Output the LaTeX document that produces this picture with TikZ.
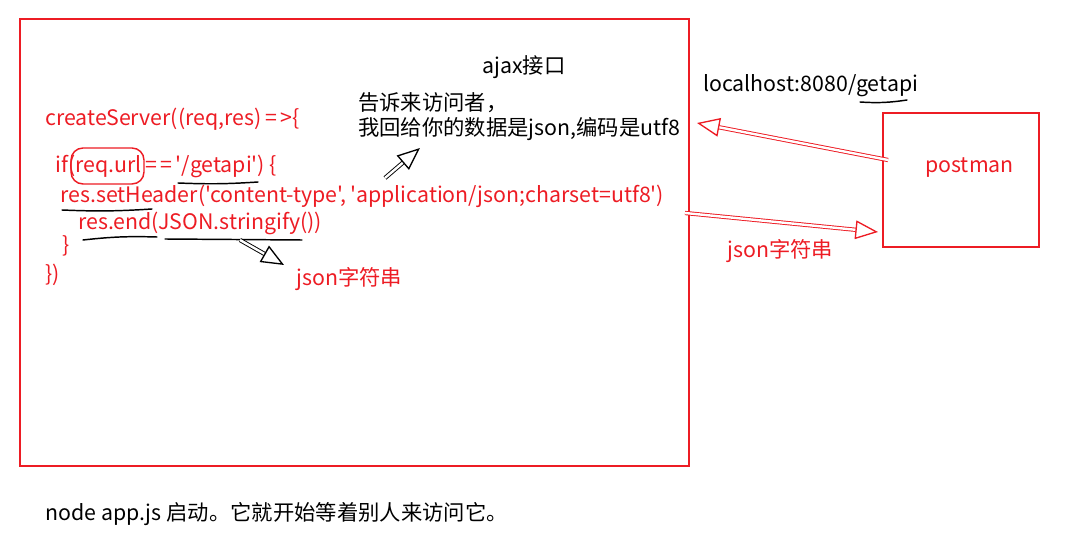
\documentclass[tikz,border=0pt]{standalone}
\usepackage{fontspec}
\setmainfont{Noto Sans CJK SC}[Ligatures=TeXOff]
\usepackage{xcolor}
\usetikzlibrary{positioning, arrows.meta}
\definecolor{paintred}{HTML}{ED1C24}

\begin{document}
\begin{tikzpicture}[x=0.75pt, y=-0.75pt,
  txt/.style={anchor=west, inner sep=0pt, font=\fontsize{16}{19}\selectfont},
  code/.style={txt, text=paintred},
  frame/.style={draw=paintred, line width=2.2pt, inner sep=0pt},
  scribble/.style={line width=1.1pt, line cap=round},
  hollow/.style={double, double distance=1.8pt, line width=0.7pt,
                 -{Triangle[open, length=17pt, width=14pt, line width=1pt]}}]
  \useasboundingbox (0,0) rectangle (1082,541);

  % the server and the client
  \node[frame, minimum width=501.75pt, minimum height=335.25pt] (server) at (354.5,242.5) {};
  \node[frame, minimum width=117pt, minimum height=100.5pt] (pmbox) at (961,180) {};
  \node[code] (pmlabel) at (925,168) {postman};

  % code inside the server
  \node[code] (line1) at (45,119) {createServer((req,res)\,=\,>\{};
  \node[code] (line2) at (55,166) {if(req.url\,=\,=\,'/getapi') \{};
  \node[code] (line3) at (60,196) {res.setHeader('content-type',\,'application/json;charset=utf8')};
  \node[code] (line4) at (78,223) {res.end(JSON.stringify())};
  \node[code] (line5) at (62,246) {\}};
  \node[code] (line6) at (45,275) {\})};

  % notes
  \node[txt] (ajax) at (482,67) {ajax接口};
  \node[txt] (tell1) at (358,103) {告诉来访问者，};
  \node[txt] (tell2) at (358,129) {我回给你的数据是json,编码是utf8};
  \node[txt] (url) at (703,86) {localhost:8080/getapi};
  \node[code] (jsonA) at (296,279) {json字符串};
  \node[code] (jsonB) at (727,251) {json字符串};
  \node[txt] (start) at (45,514) {node app.js 启动。它就开始等着别人来访问它。};

  % marks on the code
  \draw[paintred, line width=1.1pt, rounded corners=9pt] (71,148) rectangle (144,184);
  \draw[scribble] (178,183) to[bend right=3] (258,182);
  \draw[scribble] (62,210) to[bend right=3] (152,209);
  \draw[scribble] (83,240) to[bend left=4] (157,237);
  \draw[scribble] (165,239) -- (302,240);
  \draw[scribble] (860,102) to[bend right=6] (907,100);

  % arrows
  \coordinate (reqtail) at (888,160);
  \coordinate (reqhead) at (697,123);
  \coordinate (restail) at (685,213);
  \coordinate (reshead) at (878,232);
  \coordinate (hdrtail) at (385,178);
  \coordinate (hdrhead) at (420,148);
  \coordinate (strtail) at (240,240);
  \coordinate (strhead) at (284,265);
  \draw[hollow, paintred] (reqtail) -- (reqhead);
  \draw[hollow, paintred] (restail) -- (reshead);
  \draw[hollow] (hdrtail) -- (hdrhead);
  \draw[hollow] (strtail) -- (strhead);
\end{tikzpicture}
\end{document}
